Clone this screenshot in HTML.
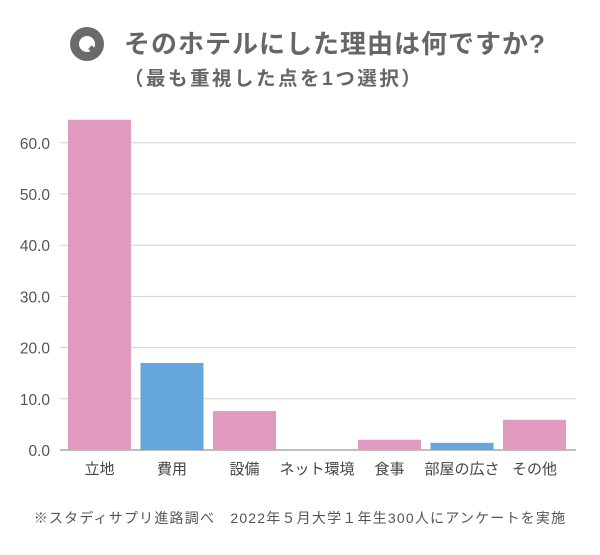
<!DOCTYPE html>
<html><head><meta charset="utf-8"><style>
body{margin:0;background:#fff;width:600px;height:550px;overflow:hidden;font-family:"Liberation Sans","Noto Sans CJK JP",sans-serif;}
</style></head><body>
<svg id="c" width="600" height="550" xmlns="http://www.w3.org/2000/svg">
<g>
<circle cx="87" cy="44" r="17" fill="#6b6b6b"/>
<circle cx="87" cy="44" r="8" fill="#fff"/>
<rect x="89" y="48" width="11" height="5" fill="#6b6b6b" transform="rotate(40 94 50)"/>
<text x="124" y="53" font-size="26" fill="#666" font-weight="bold" letter-spacing="1">そのホテルにした理由は何ですか?</text>
<text x="124" y="85" font-size="19.5" fill="#666" font-weight="bold" letter-spacing="2.5">（最も重視した点を1つ選択）</text>
</g>
<g id="grid"></g><g id="bars"></g><g id="labels"></g>
<text x="300" y="523" font-size="14" fill="#555" text-anchor="middle" letter-spacing="1.2">※スタディサプリ進路調べ　2022年５月大学１年生300人にアンケートを実施</text>
</svg>
<script>
const categories=["立地","費用","設備","ネット環境","食事","部屋の広さ","その他"];
const values=[64.5,17.0,7.6,0,2.0,1.4,5.9];
const barColors=["#e19bc0","#63a7dc","#e19bc0","#e19bc0","#e19bc0","#63a7dc","#e19bc0"];
const yTicks=[0,10,20,30,40,50,60];
const yTickLabels=["0.0","10.0","20.0","30.0","40.0","50.0","60.0"];
const NS="http://www.w3.org/2000/svg";
const y0=450,pxPer=5.12,x0=68,band=72.5,bw=63;
const y=v=>y0-v*pxPer, x=i=>x0+i*band;
function mk(t,a,p){const e=document.createElementNS(NS,t);for(const k in a)e.setAttribute(k,a[k]);p.appendChild(e);return e;}
const g=document.getElementById('grid'),b=document.getElementById('bars'),l=document.getElementById('labels');
yTicks.forEach((v,i)=>{
 const ln=mk('line',{x1:60,x2:576,y1:y(v),y2:y(v),stroke:v===0?'#aaa':'#d0d0d0','stroke-width':v===0?1.5:1},g);
 
 
 const t=mk('text',{x:50,y:y(v)+6,'font-size':15.5,fill:'#555','text-anchor':'end'},g);
 t.textContent=yTickLabels[i];
 
 
});
categories.forEach((c,i)=>{
 const r=mk('rect',{x:x(i),y:y(values[i]),width:bw,height:values[i]*pxPer,fill:barColors[i]},b);
 
 
 const t=mk('text',{x:x(i)+bw/2,y:474,'font-size':15,fill:'#444','text-anchor':'middle'},l);
 t.textContent=c;
 
 
});
</script>
</body></html>
